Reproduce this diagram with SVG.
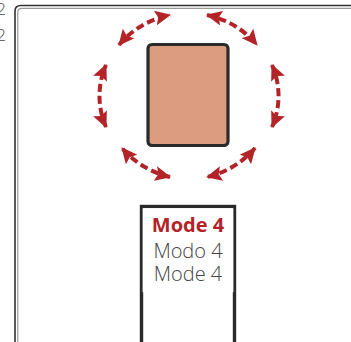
<svg xmlns="http://www.w3.org/2000/svg" width="351" height="342" viewBox="0 0 351 342">
<style>
.frame-o{fill:none;stroke:#333;stroke-width:1.6}
.frame-i{fill:none;stroke:#9a9a9a;stroke-width:1.2}
.arc{fill:none;stroke:#b22428;stroke-width:4;stroke-dasharray:8 4}
.lbl{font-family:"Open Sans","Lato","DejaVu Sans",sans-serif;font-size:20px;text-anchor:middle}
.side{font-family:"Open Sans","Lato","DejaVu Sans",sans-serif;font-size:17px;font-weight:300;fill:#444}
</style>
<defs>
<marker id="ah" viewBox="0 0 16 15" refX="15" refY="7.5" markerWidth="16" markerHeight="15" markerUnits="userSpaceOnUse" orient="auto-start-reverse">
<path d="M0,0 L16,7.5 L0,15 L3,7.5 z" fill="#b22428"/>
</marker>
</defs>
<rect width="351" height="342" fill="#fff"/>
<text class="side" x="6" y="15" text-anchor="end">2</text>
<text class="side" x="6" y="41" text-anchor="end">2</text>
<path class="frame-o" d="M15,342 V11 Q15,5.5 21,5.5 H351"/>
<path class="frame-i" d="M17.8,342 V12 Q17.8,8.3 22,8.3 H351"/>
<g id="connectors">
<path class="arc" d="M119,45 A88 82 0 0 1 170,15" marker-start="url(#ah)" marker-end="url(#ah)"/>
<path class="arc" d="M207,15 A88 82 0 0 1 257,45" marker-start="url(#ah)" marker-end="url(#ah)"/>
<path class="arc" d="M272,65 A88 82 0 0 1 272,127" marker-start="url(#ah)" marker-end="url(#ah)"/>
<path class="arc" d="M255,148 A88 82 0 0 1 207,177" marker-start="url(#ah)" marker-end="url(#ah)"/>
<path class="arc" d="M170,177 A88 82 0 0 1 122,148" marker-start="url(#ah)" marker-end="url(#ah)"/>
<path class="arc" d="M106,127 A88 82 0 0 1 106,65" marker-start="url(#ah)" marker-end="url(#ah)"/>
</g>
<g id="block">
<rect x="148" y="44.5" width="80" height="101" rx="4" fill="#dc9c80" stroke="#2a2a2a" stroke-width="3.2"/>
</g>
<g id="mode-box">
<rect x="141.5" y="206.5" width="93" height="150" fill="#fff" stroke="#2a2a2a" stroke-width="3.4"/>
<rect x="142.6" y="208.2" width="90.8" height="84" fill="#fff"/>
<text class="lbl" x="188" y="231.5" font-weight="700" fill="#b22428">Mode 4</text>
<text class="lbl" x="188" y="257.5" font-weight="300" fill="#444">Modo 4</text>
<text class="lbl" x="188" y="281" font-weight="300" fill="#444">Mode 4</text>
</g>
</svg>
